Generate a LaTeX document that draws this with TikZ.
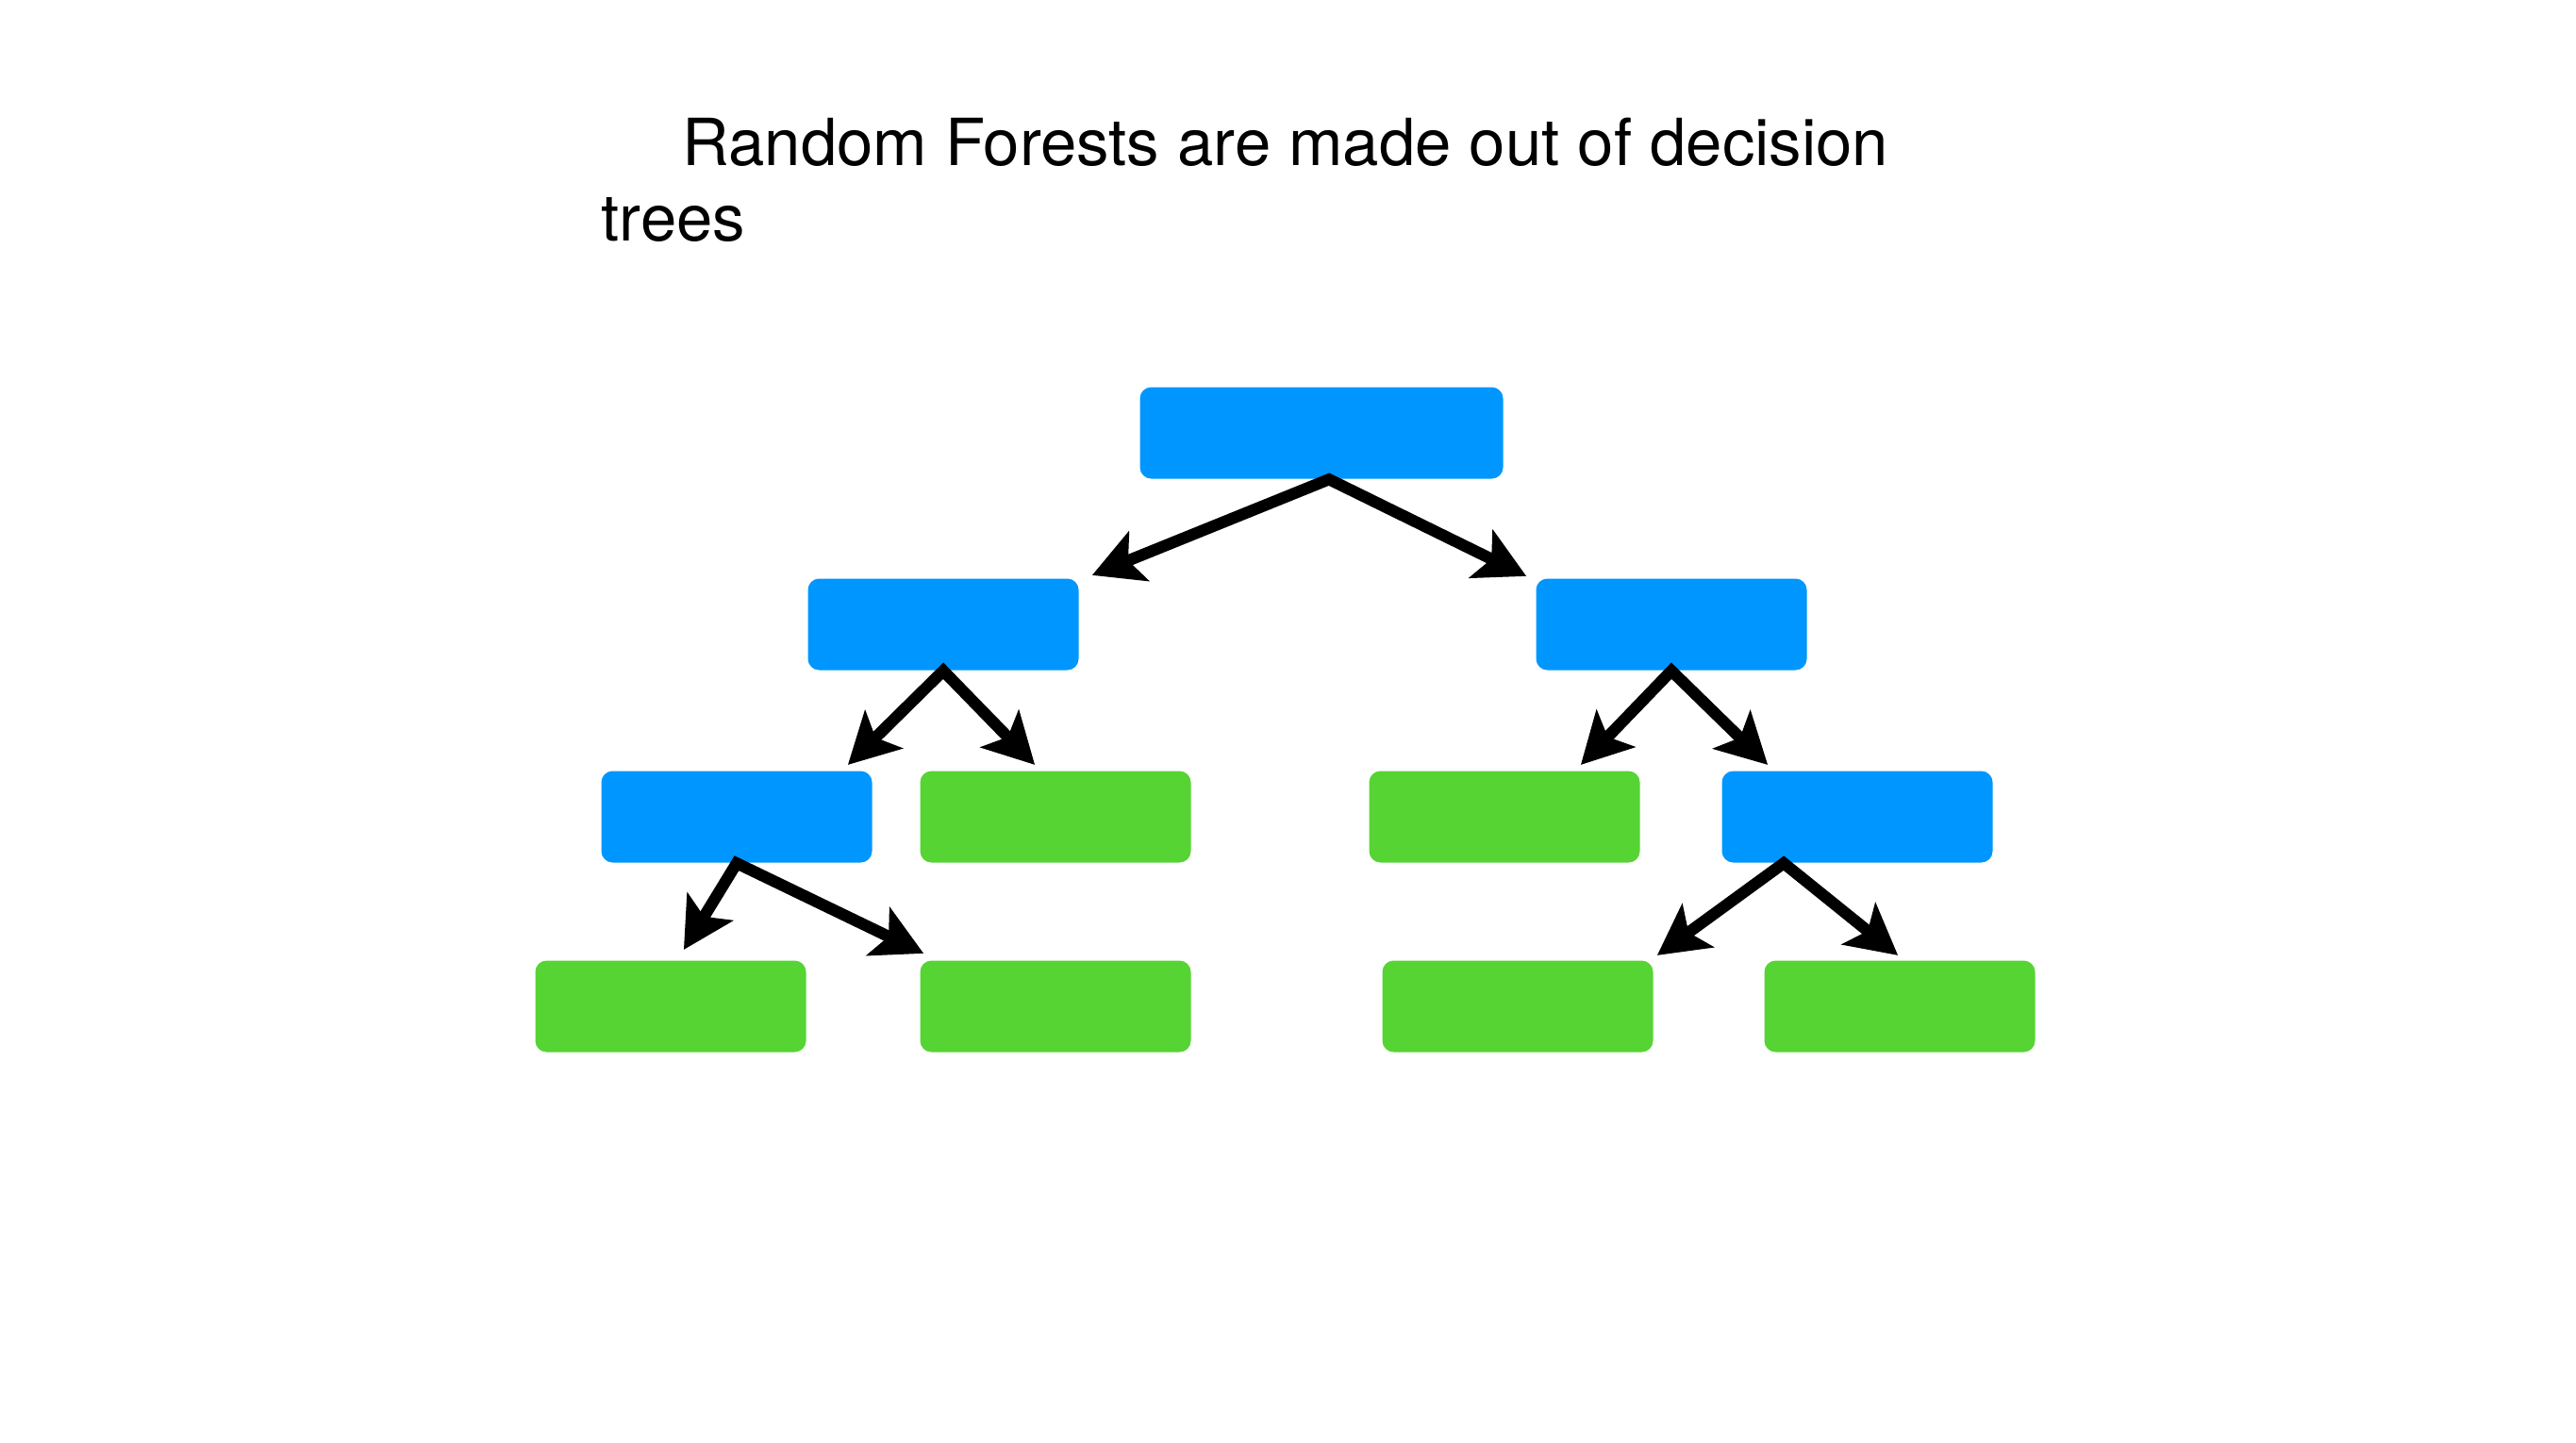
\documentclass[tikz,border=0pt]{standalone}
\usepackage{fontspec}
\setmainfont{TeX Gyre Heros}
\usetikzlibrary{arrows.meta, positioning}
\definecolor{splitblue}{RGB}{0,150,255}
\definecolor{leafgreen}{RGB}{86,212,52}
\tikzset{%
	box/.style={rectangle, inner sep=0mm, minimum width=28.7mm, minimum height=9.7mm,%
		rounded corners=1.2mm},
	split/.style={box, fill=splitblue},
	leaf/.style={box, fill=leafgreen},
	branch/.style={{Stealth[length=5.4mm, width=5.8mm, inset=1.3mm, line width=0.4pt]}-{Stealth[length=5.4mm, width=5.8mm, inset=1.3mm, line width=0.4pt]},%
		line width=3.5pt, line join=miter},
	caption/.style={align=left, inner sep=0mm, font=\fontsize{19.6}{22.8}\selectfont}
}
\begin{document}
\begin{tikzpicture}
	\useasboundingbox (0,0) rectangle (27.31,-15.29);
	\node[caption, anchor=north west] (title) at (6.37,-1.24)
		{\hspace*{0.86cm}Random Forests are made out of decision\\trees};

	\node[split, minimum width=38.5mm] (root) at (14.01,-4.59) {};
	\node[split] (l) at (10.00,-6.62) {};
	\node[split] (r) at (17.72,-6.62) {};
	\node[split] (ll) at (7.81,-8.66) {};
	\node[leaf] (lr) at (11.19,-8.66) {};
	\node[leaf] (rl) at (15.95,-8.66) {};
	\node[split] (rr) at (19.69,-8.66) {};
	\node[leaf] (lll) at (7.11,-10.67) {};
	\node[leaf] (llr) at (11.19,-10.67) {};
	\node[leaf] (rrl) at (16.09,-10.67) {};
	\node[leaf] (rrr) at (20.14,-10.67) {};

	\draw[branch] ([xshift=15.8mm, yshift=0.3mm]l.north) -- ([xshift=0.8mm]root.south)
		-- ([xshift=-15.4mm, yshift=0.2mm]r.north);
	\draw[branch] ([xshift=11.8mm, yshift=0.6mm]ll.north) -- (l.south)
		-- ([xshift=-2.2mm, yshift=0.6mm]lr.north);
	\draw[branch] ([xshift=8.1mm, yshift=0.6mm]rl.north) -- (r.south)
		-- ([xshift=-9.5mm, yshift=0.6mm]rr.north);
	\draw[branch] ([xshift=1.4mm, yshift=1.1mm]lll.north) -- (ll.south)
		-- ([xshift=-14mm, yshift=0.7mm]llr.north);
	\draw[branch] ([xshift=14.8mm, yshift=0.5mm]rrl.north) -- ([xshift=-7.8mm]rr.south)
		-- ([xshift=-0.2mm, yshift=0.5mm]rrr.north);
\end{tikzpicture}
\end{document}
